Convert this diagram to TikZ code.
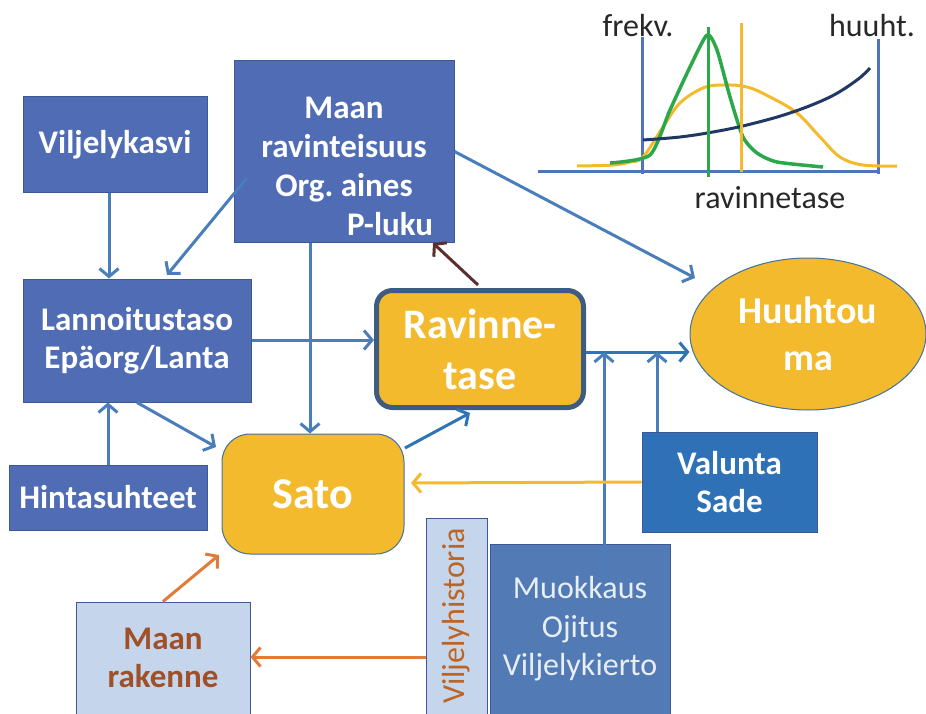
\documentclass[tikz,border=0pt]{standalone}
\usepackage{fontspec}
\setmainfont{Carlito}
\usetikzlibrary{arrows.meta,shapes.geometric}
\frenchspacing
\definecolor{boxblue}{RGB}{79,108,181}
\definecolor{boxedge}{RGB}{62,88,150}
\definecolor{connblue}{RGB}{74,126,187}
\definecolor{darkconn}{RGB}{46,117,182}
\definecolor{yel}{RGB}{243,186,45}
\definecolor{yeledge}{RGB}{65,113,156}
\definecolor{rtedge}{RGB}{62,92,130}
\definecolor{valblue}{RGB}{46,113,182}
\definecolor{mublue}{RGB}{82,122,180}
\definecolor{mutext}{RGB}{232,238,246}
\definecolor{lightblue}{RGB}{197,214,236}
\definecolor{brownt}{RGB}{160,80,40}
\definecolor{oranget}{RGB}{190,100,35}
\definecolor{orangearr}{RGB}{224,123,57}
\definecolor{brownarr}{RGB}{92,46,46}
\definecolor{axis}{RGB}{79,116,185}
\definecolor{grn}{RGB}{43,168,74}
\definecolor{navy}{RGB}{31,56,100}
\definecolor{lbl}{RGB}{40,40,40}
\begin{document}
\begin{tikzpicture}[x=1pt,y=-1pt,
  box/.style={draw=boxedge, fill=boxblue, line width=1pt, text=white, font=\bfseries\fontsize{33}{38}\selectfont, align=center, inner sep=0pt},
  yelbox/.style={fill=yel, text=white, align=center, inner sep=0pt},
  conn/.style={draw=connblue, line width=3pt, -{Straight Barb[length=8pt,width=19pt]}},
  lblt/.style={text=lbl, font=\fontsize{32}{36}\selectfont, inner sep=0pt}
]
\useasboundingbox (0,0) rectangle (926,714);

% ---- chart ----
\draw[axis, line width=3pt] (538,172) -- (880,172);
\draw[axis, line width=3pt] (642,37) -- (642,174);
\draw[axis, line width=3pt] (878,39) -- (878,174);
\draw[yel, line width=3pt] plot[smooth, tension=0.6] coordinates {(577,166) (613,165) (630,162) (643,157) (663,127) (680,103) (703,88) (723,85) (747,87) (770,97) (797,113) (820,137) (840,157) (863,165) (897,166)};
\draw[grn, line width=3.5pt, line join=round] plot[smooth, tension=0.4] coordinates {(610,163) (650,155) (670,110) (690,67) (707,35) (717,50) (730,97) (743,137) (757,153) (777,162) (823,167)};
\draw[navy, line width=3pt] plot[smooth, tension=0.6] coordinates {(643,140) (680,137) (713,132) (747,125) (790,113) (830,97) (857,80) (870,68)};
\draw[grn, line width=3pt] (708,27) -- (708,177);
\draw[yel, line width=3pt] (741,23) -- (741,172);
\node[lblt] (frekv) at (638,26) {frekv.};
\node[lblt] (huuht) at (872,26) {huuht.};
\node[lblt] (ravt) at (770,198) {ravinnetase};

% ---- nodes ----
\node[box, minimum width=184pt, minimum height=96pt] (vk) at (115,145) {Viljelykasvi};
\node[box, minimum width=220pt, minimum height=181pt] (mr) at (344,151.5) {};
\node[text=white, font=\bfseries\fontsize{33}{39}\selectfont, align=center, inner sep=0pt] (mrt) at (344,166) {Maan\\ravinteisuus\\Org. aines\\\hspace*{92pt}P-luku};
\node[box, minimum width=228pt, minimum height=123pt] (lt) at (137,340.5) {Lannoitustaso\\Epäorg/Lanta};
\node[yelbox, draw=rtedge, line width=5pt, rounded corners=16pt, minimum width=207pt, minimum height=117pt, font=\bfseries\fontsize{42}{51}\selectfont] (rt) at (480,349) {Ravinne-\\tase};
\node[yelbox, ellipse, draw=yeledge, line width=1pt, minimum width=236pt, minimum height=152pt, font=\bfseries\fontsize{38}{47}\selectfont] (hu) at (808,334) {Huuhtou\\ma};
\node[yelbox, draw=yeledge, line width=1pt, rounded corners=28pt, minimum width=182pt, minimum height=120pt, font=\bfseries\fontsize{44}{48}\selectfont] (sa) at (313,494) {Sato};
\node[box, minimum width=198pt, minimum height=65pt] (hs) at (108,497.5) {Hintasuhteet};
\node[box, fill=valblue, minimum width=175pt, minimum height=100pt] (vs) at (729.5,482) {Valunta\\Sade};
\node[box, fill=lightblue, text=brownt, minimum width=174pt, minimum height=112pt] (mrk) at (163,658) {Maan\\rakenne};
\node[box, fill=lightblue, text=oranget, font=\fontsize{32}{36}\selectfont, rotate=90, minimum width=196pt, minimum height=61pt] (vh) at (456.5,616) {Viljelyhistoria};
\node[box, fill=mublue, text=mutext, font=\fontsize{32}{38.5}\selectfont, minimum width=180pt, minimum height=170pt] (mu) at (580,629) {Muokkaus\\Ojitus\\Viljelykierto};

% ---- connectors ----
\coordinate (a2s) at (247,178);
\coordinate (a2e) at (167,275);
\coordinate (a4e) at (695,278);
\coordinate (a6e) at (216,447);
\coordinate (a8s) at (405,448);
\coordinate (a8e) at (470,413);
\coordinate (a9s) at (478,285);
\coordinate (a9e) at (433,243);
\coordinate (j1) at (604,352);
\coordinate (m1) at (604,580);
\coordinate (j2) at (657,352);
\coordinate (a13e) at (411,483);
\coordinate (a14e) at (219,555);
\coordinate (o1) at (426,657);

\draw[conn] ([xshift=-6pt]vk.south) -- ([xshift=-6pt]vk.south |- lt.north);
\draw[conn] (a2s) -- (a2e);
\draw[conn] (mr.south -| 310,0) -- (sa.north -| 310,0);
\draw[conn] (mr.east) -- (a4e);
\draw[conn] (lt.east |- 0,340) -- (rt.west |- 0,340);
\draw[conn] (lt.south) -- (a6e);
\draw[conn] (hs.north |- 0,465) -- (lt.south -| hs.north);
\draw[conn, draw=darkconn] (a8s) -- (a8e);
\draw[conn, draw=brownarr] (a9s) -- (a9e);
\draw[conn, draw=darkconn] (rt.east |- j1) -- (rt.east |- j1 -| hu.west);
\draw[conn] (j2 |- vs.north) -- (j2);
\draw[conn] (m1) -- (j1);
\draw[conn, draw=yel] (vs.west) -- (a13e);
\draw[conn, draw=orangearr] (mrk.north) -- (a14e);
\draw[conn, draw=orangearr] (o1) -- (o1 -| mrk.east);
\end{tikzpicture}
\end{document}
